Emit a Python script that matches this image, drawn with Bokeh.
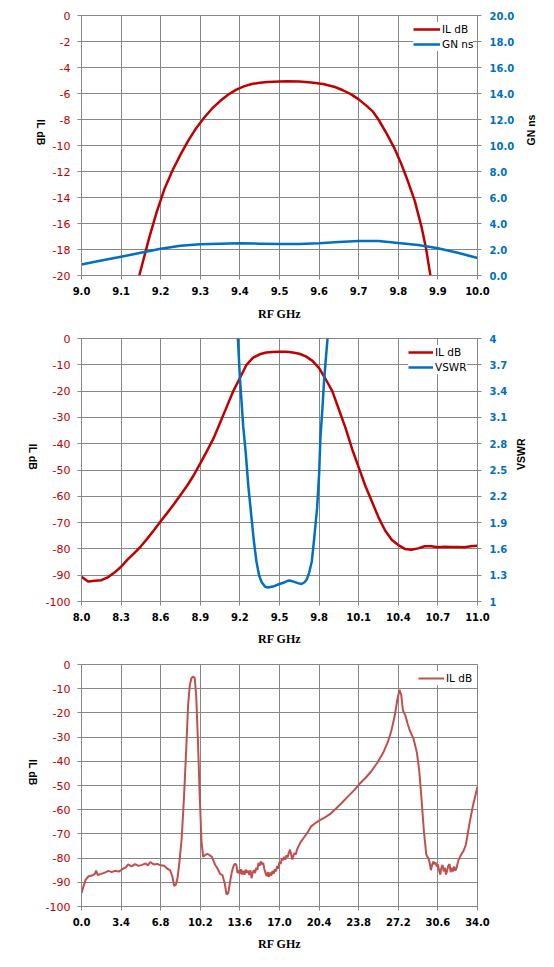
import math
from bokeh.plotting import figure
from bokeh.models import (Range1d, LinearAxis, FixedTicker, NumeralTickFormatter,
                          Legend, LegendItem)
from bokeh.layouts import column
from bokeh.embed import file_html
from bokeh.resources import INLINE

# ---------------- data ----------------
# Chart 1: narrow band
freq1_il = [9.12, 9.146, 9.17, 9.19, 9.21, 9.23, 9.25, 9.27, 9.29, 9.31, 9.33, 9.35, 9.37,
            9.39, 9.41, 9.43, 9.45, 9.47, 9.50, 9.52, 9.55, 9.58, 9.61, 9.64, 9.66, 9.68,
            9.70, 9.72, 9.736, 9.75, 9.771, 9.79, 9.806, 9.82, 9.841, 9.859, 9.87, 9.88, 9.89]
il1 = [-24.5, -20.0, -17.2, -15.1, -13.3, -11.9, -10.7, -9.6, -8.65, -7.85, -7.15, -6.58, -6.1,
       -5.72, -5.45, -5.27, -5.17, -5.11, -5.07, -5.06, -5.08, -5.15, -5.27, -5.5, -5.75, -6.05,
       -6.45, -6.95, -7.4, -8.0, -9.1, -10.2, -11.3, -12.4, -14.2, -16.3, -17.9, -19.8, -21.8]
freq1_gd = [9.0, 9.05, 9.1, 9.15, 9.2, 9.25, 9.3, 9.35, 9.4, 9.45, 9.5, 9.55, 9.6, 9.65,
            9.7, 9.75, 9.8, 9.85, 9.9, 9.95, 10.0]
gd1 = [0.85, 1.15, 1.45, 1.75, 2.05, 2.28, 2.4, 2.45, 2.48, 2.45, 2.42, 2.43, 2.48, 2.58,
       2.65, 2.66, 2.5, 2.35, 2.1, 1.75, 1.35]
x_ticks1 = [9.0, 9.1, 9.2, 9.3, 9.4, 9.5, 9.6, 9.7, 9.8, 9.9, 10.0]
y_ticks1 = [0, -2, -4, -6, -8, -10, -12, -14, -16, -18, -20]
r_ticks1 = [0, 2, 4, 6, 8, 10, 12, 14, 16, 18, 20]

# Chart 2: wider band with VSWR
freq2 = [8.0, 8.05, 8.1, 8.15, 8.2, 8.25, 8.3, 8.35, 8.4, 8.45, 8.5, 8.55, 8.6, 8.65, 8.7,
         8.75, 8.8, 8.85, 8.9, 8.95, 9.0, 9.05, 9.1, 9.15, 9.2, 9.25, 9.3, 9.35, 9.4, 9.45,
         9.5, 9.55, 9.6, 9.65, 9.7, 9.75, 9.8, 9.85, 9.9, 9.95, 10.0, 10.05, 10.1, 10.15,
         10.2, 10.25, 10.3, 10.35, 10.4, 10.45, 10.5, 10.55, 10.6, 10.65, 10.7, 10.75, 10.8,
         10.85, 10.9, 10.95, 11.0]
il2 = [-90.6, -92.4, -92.1, -91.9, -90.8, -89.0, -86.8, -84.0, -81.6, -79.0, -76.0, -72.8,
       -69.5, -66.3, -63.0, -59.5, -56.0, -52.0, -47.5, -42.8, -38.0, -32.0, -26.0, -20.0,
       -15.0, -10.0, -7.3, -6.0, -5.3, -5.1, -5.0, -5.0, -5.3, -5.8, -6.8, -8.5, -11.3,
       -15.5, -20.0, -27.0, -34.0, -42.0, -49.0, -56.0, -62.0, -68.0, -73.0, -76.5, -78.5,
       -80.0, -80.3, -79.8, -79.0, -79.0, -79.4, -79.2, -79.3, -79.3, -79.4, -79.0, -78.8]
freq2_v = [9.17, 9.185, 9.2, 9.225, 9.245, 9.265, 9.285, 9.305, 9.325, 9.345, 9.365, 9.39,
           9.41, 9.45, 9.5, 9.54, 9.57, 9.6, 9.64, 9.667, 9.69, 9.706, 9.725, 9.745, 9.765,
           9.785, 9.8, 9.81, 9.825, 9.837, 9.85, 9.864, 9.88]
vswr2 = [4.5, 4.0, 3.55, 3.0, 2.68, 2.3, 2.0, 1.7, 1.46, 1.3, 1.22, 1.17, 1.16, 1.17, 1.2,
         1.22, 1.24, 1.23, 1.21, 1.2, 1.22, 1.25, 1.33, 1.46, 1.75, 2.07, 2.45, 2.87, 3.2,
         3.5, 3.75, 4.0, 4.4]
x_ticks2 = [8.0, 8.3, 8.6, 8.9, 9.2, 9.5, 9.8, 10.1, 10.4, 10.7, 11.0]
y_ticks2 = [0, -10, -20, -30, -40, -50, -60, -70, -80, -90, -100]
r_ticks2 = [1.0, 1.3, 1.6, 1.9, 2.2, 2.5, 2.8, 3.1, 3.4, 3.7, 4.0]

# Chart 3: broadband sweep (read in segments)
freq3_a = [0.0, 0.15, 0.35, 0.6, 0.9, 1.15, 1.25, 1.4, 1.7, 2.0,
           2.3, 2.6, 2.9, 3.2, 3.5, 3.8, 4.0, 4.3, 4.6, 4.9,
           5.2, 5.5, 5.7, 5.9, 6.2, 6.5, 6.8, 7.1, 7.4, 7.6,
           7.8, 7.95, 8.1, 8.25, 8.4, 8.6, 8.8, 9.0, 9.15, 9.3,
           9.45, 9.6, 9.72, 9.85, 10.0, 10.15, 10.3, 10.45, 10.6, 10.8,
           11.0, 11.2, 11.45, 11.7, 11.9, 12.1, 12.3, 12.45, 12.6, 12.8]
il3_a = [-94.5, -92.0, -89.0, -87.5, -87.2, -86.5, -85.2, -87.0, -86.5, -86.0,
         -85.3, -85.8, -85.2, -85.6, -84.6, -83.8, -82.6, -83.4, -82.5, -83.2,
         -82.8, -82.2, -83.0, -81.6, -82.6, -82.4, -83.0, -83.2, -84.5, -85.0,
         -87.5, -91.5, -91.0, -88.0, -82.0, -72.0, -55.0, -34.0, -17.0, -8.5,
         -5.5, -5.0, -5.6, -13.0, -32.0, -54.0, -73.0, -79.5, -78.8, -78.3,
         -78.8, -79.5, -82.5, -84.5, -86.5, -87.0, -90.5, -95.0, -94.5, -88.5]
freq3_b = [12.9, 13.0, 13.1, 13.2, 13.3, 13.4, 13.5, 13.6, 13.7, 13.8,
           13.9, 14.0, 14.1, 14.2, 14.3, 14.4, 14.5, 14.6, 14.7, 14.8,
           14.9, 15.0, 15.1, 15.2, 15.3, 15.4, 15.5, 15.6, 15.7, 15.8,
           15.9, 16.0, 16.1, 16.2, 16.3, 16.4, 16.5, 16.6, 16.7, 16.8,
           16.9, 17.0, 17.1, 17.2, 17.3, 17.4, 17.5, 17.6, 17.7, 17.8,
           17.9, 18.0, 18.1, 18.2, 18.3, 18.4, 18.5]
il3_b = [-86.0, -84.0, -82.8, -82.3, -83.0, -86.2, -85.0, -86.5, -84.6, -86.8,
         -85.2, -86.9, -84.8, -86.0, -85.2, -87.0, -85.0, -88.3, -86.0, -85.0,
         -86.2, -84.0, -84.8, -82.0, -83.2, -81.4, -82.6, -82.0, -84.5, -86.2,
         -87.5, -85.8, -87.8, -86.0, -87.2, -85.3, -86.5, -84.6, -85.5, -83.2,
         -84.4, -81.5, -82.5, -80.2, -80.8, -79.5, -80.6, -78.8, -79.6, -77.8,
         -76.5, -78.5, -80.6, -79.0, -77.8, -78.5, -76.5]
freq3_c = [18.8, 19.1, 19.4, 19.7, 20.0, 20.4, 20.9, 21.4, 21.9, 22.4,
           22.9, 23.4, 23.9, 24.4, 24.9, 25.4, 25.9, 26.3, 26.6, 26.9,
           27.1, 27.3, 27.45, 27.6, 27.8, 28.0, 28.2, 28.5, 28.8, 29.0,
           29.2, 29.4]
il3_c = [-73.5, -71.5, -69.5, -67.0, -65.8, -64.5, -63.2, -61.6, -59.3, -56.9,
         -54.4, -52.0, -49.2, -46.8, -44.0, -40.6, -36.5, -32.0, -27.5, -21.0,
         -15.0, -10.5, -12.5, -19.0, -21.0, -24.5, -27.5, -30.5, -36.5, -44.0,
         -56.0, -69.0]
freq3_d = [29.6, 29.7, 29.8, 29.9, 30.0, 30.1, 30.2, 30.3, 30.4, 30.5,
           30.6, 30.7, 30.8, 30.9, 31.0, 31.1, 31.2, 31.3, 31.4, 31.5,
           31.6, 31.7, 31.8, 31.9, 32.0, 32.1, 32.2, 32.3, 32.4, 32.5,
           32.6, 32.8, 33.0, 33.3, 33.6, 34.0]
il3_d = [-78.5, -79.5, -80.2, -82.0, -85.0, -83.0, -81.4, -82.5, -81.8, -83.5,
         -82.6, -85.0, -86.8, -84.0, -82.8, -85.5, -84.0, -86.8, -85.0, -83.0,
         -82.5, -85.8, -84.0, -85.5, -83.5, -85.2, -84.2, -82.0, -80.5, -79.5,
         -78.5, -77.0, -74.5, -66.0, -58.5, -50.5]
x_ticks3 = [0.0, 3.4, 6.8, 10.2, 13.6, 17.0, 20.4, 23.8, 27.2, 30.6, 34.0]
y_ticks3 = [0, -10, -20, -30, -40, -50, -60, -70, -80, -90, -100]

freq3 = freq3_a + freq3_b + freq3_c + freq3_d
il3 = il3_a + il3_b + il3_c + il3_d

# ---------------- styles ----------------
GRID = "#868686"
RED = "#c00000"
BLUE = "#0070c0"
RED3 = "#c0504d"
TICK_FONT = "DejaVu Sans"
TITLE_FONT = "Liberation Sans"
XTITLE_FONT = "Liberation Serif"
W = 546


def make_fig(h, bl, br, bt, bb, xr, yr):
    p = figure(width=W, height=h, x_range=Range1d(*xr), y_range=Range1d(*yr),
               output_backend="svg", toolbar_location=None,
               min_border_left=bl, min_border_right=br,
               min_border_top=bt, min_border_bottom=bb)
    p.outline_line_color = GRID
    p.background_fill_color = "white"
    p.border_fill_color = "white"
    p.grid.grid_line_color = GRID
    p.grid.grid_line_width = 1
    return p


def style_axis(ax, ticks, fmt, color, bold, standoff):
    ax.ticker = FixedTicker(ticks=ticks)
    ax.formatter = NumeralTickFormatter(format=fmt)
    ax.axis_line_color = GRID
    ax.major_tick_line_color = GRID
    ax.major_tick_out = 4
    ax.major_tick_in = 0
    ax.minor_tick_line_color = None
    ax.major_label_text_font = TICK_FONT
    ax.major_label_text_font_size = "10px" if bold else "11px"
    ax.major_label_text_font_style = "bold" if bold else "normal"
    ax.major_label_text_color = color
    ax.major_label_standoff = standoff


def style_xaxis(p, ticks, standoff, title_standoff):
    ax = p.xaxis[0]
    style_axis(ax, ticks, "0.0", "#000000", True, standoff)
    ax.axis_label = "RF GHz"
    ax.axis_label_text_font = XTITLE_FONT
    ax.axis_label_text_font_style = "bold"
    ax.axis_label_text_font_size = "12px"
    ax.axis_label_text_color = "#000000"
    ax.axis_label_standoff = title_standoff


def side_title(ax, text, standoff, angle):
    ax.axis_label = text
    ax.axis_label_text_font = TITLE_FONT
    ax.axis_label_text_font_style = "bold"
    ax.axis_label_text_font_size = "10.5px"
    ax.axis_label_text_color = "#000000"
    ax.axis_label_standoff = standoff
    try:
        ax.axis_label_orientation = angle
    except Exception:
        pass


def add_legend(p, items, glyph_left, row_center, frame_left, frame_h, glyph_w):
    pad, h, sp = 2, 14, 1
    n = len(items)
    top = row_center - h / 2 - pad
    leg_h = n * h + (n - 1) * sp + 2 * pad
    loc = (glyph_left - pad - frame_left, frame_h - (top + leg_h))
    leg = Legend(items=items, location=loc,
                 background_fill_color="white", background_fill_alpha=1.0,
                 border_line_color=None, padding=pad, spacing=sp, margin=0,
                 glyph_width=glyph_w, glyph_height=h, label_height=h,
                 label_standoff=2, label_text_font=TICK_FONT,
                 label_text_font_size="10.5px", label_text_color="#000000")
    p.add_layout(leg)


# ---------------- chart 1 ----------------
xr1, yr1 = (9.0, 10.0), (-20, 0)
p1 = make_fig(328, 76, 65, 15, 53, xr1, yr1)
p1.extra_y_ranges = {"ns": Range1d(0, 20)}
style_xaxis(p1, x_ticks1, 7, 9)
style_axis(p1.yaxis[0], y_ticks1, "0", RED, False, 7)
side_title(p1.yaxis[0], "IL dB", 9, -math.pi / 2)
rax1 = LinearAxis(y_range_name="ns")
style_axis(rax1, r_ticks1, "0.0", BLUE, True, 8)
side_title(rax1, "GN ns", 14, math.pi / 2)
p1.add_layout(rax1, "right")
r1a = p1.line(freq1_il, il1, line_color=RED, line_width=2.5)
r1b = p1.line(freq1_gd, gd1, line_color=BLUE, line_width=2.5, y_range_name="ns")
add_legend(p1, [LegendItem(label="IL dB", renderers=[r1a]),
                LegendItem(label="GN ns", renderers=[r1b])],
           410, 11.7, 76, 260, 27)

# ---------------- chart 2 ----------------
xr2, yr2 = (8.0, 11.0), (-100, 0)
p2 = make_fig(327, 81, 64, 10, 54, xr2, yr2)
p2.extra_y_ranges = {"vswr": Range1d(1, 4)}
style_xaxis(p2, x_ticks2, 7, 8)
style_axis(p2.yaxis[0], y_ticks2, "0", RED, False, 7)
side_title(p2.yaxis[0], "IL dB", 10, -math.pi / 2)
rax2 = LinearAxis(y_range_name="vswr")
style_axis(rax2, r_ticks2, "0.[0]", BLUE, True, 8)
side_title(rax2, "VSWR", 11, math.pi / 2)
p2.add_layout(rax2, "right")
r2a = p2.line(freq2, il2, line_color=RED, line_width=2.5)
r2b = p2.line(freq2_v, vswr2, line_color=BLUE, line_width=2.5, y_range_name="vswr")
add_legend(p2, [LegendItem(label="IL dB", renderers=[r2a]),
                LegendItem(label="VSWR", renderers=[r2b])],
           410, 12, 81, 263, 25)

# ---------------- chart 3 ----------------
xr3, yr3 = (0.0, 34.0), (-100, 0)
p3 = make_fig(300, 81, 61, 9, 49, xr3, yr3)
style_xaxis(p3, x_ticks3, 7, 8)
style_axis(p3.yaxis[0], y_ticks3, "0", RED, False, 7)
side_title(p3.yaxis[0], "IL dB", 10, -math.pi / 2)
r3a = p3.line(freq3, il3, line_color=RED3, line_width=2.0)
add_legend(p3, [LegendItem(label="IL dB", renderers=[r3a])],
           420, 11.7, 81, 242, 26)

layout = column(p1, p2, p3, spacing=0)
open("out.html", "w").write(file_html(layout, INLINE))
